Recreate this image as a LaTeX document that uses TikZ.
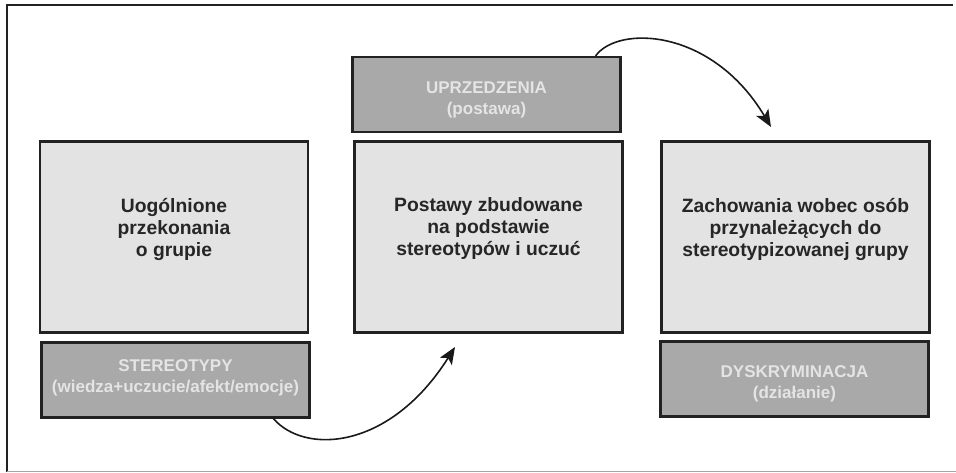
\documentclass[tikz,border=0pt]{standalone}
\usepackage{fontspec}
\setmainfont{Liberation Sans}
\usepackage{tikz}
\usetikzlibrary{arrows.meta, positioning}
\definecolor{boxlite}{RGB}{227, 227, 227}
\definecolor{boxdark}{RGB}{169, 169, 169}
\definecolor{edgedark}{RGB}{34, 34, 34}
\definecolor{txtlite}{RGB}{228, 228, 228}

\begin{document}
\begin{tikzpicture}[x=1pt, y=-1pt,
  litebox/.style={draw=edgedark, line width=2.2pt, fill=boxlite, minimum width=268pt, minimum height=191pt, inner sep=0pt},
  darkbox/.style={draw=edgedark, line width=2.2pt, fill=boxdark, minimum width=268pt, minimum height=75pt, inner sep=0pt},
  bodytxt/.style={align=center, font=\bfseries\fontsize{19.3}{22}\selectfont, text=black!85},
  tagtxt/.style={align=center, font=\bfseries\fontsize{17}{21}\selectfont, text=txtlite},
  curve/.style={line width=1.6pt, draw=black!90, -{Stealth[length=17pt, width=14pt, inset=4pt]}}
]
  \useasboundingbox (0,0) rectangle (956,473);
  % frame
  \draw[edgedark, line width=2.5pt] (7,472) -- (7,5) -- (953,5);
  \draw[black!35, line width=1pt] (7,471.5) -- (956,471.5);

  % three columns
  \node[litebox] (belief) at (174,237) {};
  \node[bodytxt] (beliefT) at ([yshift=8pt]belief.center) {Uogólnione\\przekonania\\o grupie};
  \node[darkbox] (stereo) at (175.5,380) {};
  \node[tagtxt] (stereoT) at ([yshift=2pt]stereo.center) {STEREOTYPY\\(wiedza+uczucie/afekt/emocje)};

  \node[darkbox] (prej) at (486.5,94.5) {};
  \node[tagtxt] (prejT) at ([yshift=-5pt]prej.center) {UPRZEDZENIA\\(postawa)};
  \node[litebox] (attit) at (488.5,237) {};
  \node[bodytxt] (attitT) at ([yshift=8pt]attit.center) {Postawy zbudowane\\na podstawie\\stereotypów i uczuć};

  \node[litebox] (behav) at (795.5,237) {};
  \node[bodytxt] (behavT) at ([yshift=8pt]behav.center) {Zachowania wobec osób\\przynależących do\\stereotypizowanej grupy};
  \node[darkbox] (discr) at (794.5,379) {};
  \node[tagtxt] (discrT) at ([yshift=-5pt]discr.center) {DYSKRYMINACJA\\(działanie)};

  % arrows
  \coordinate (tipA) at (455,347);
  \coordinate (tipB) at (771,127);
  \draw[curve] ([xshift=233pt]stereo.south west) .. controls (305,455) and (390,450) .. (tipA);
  \draw[curve] ([xshift=-26pt]prej.north east) .. controls (618,25) and (712,28) .. (tipB);
\end{tikzpicture}
\end{document}
